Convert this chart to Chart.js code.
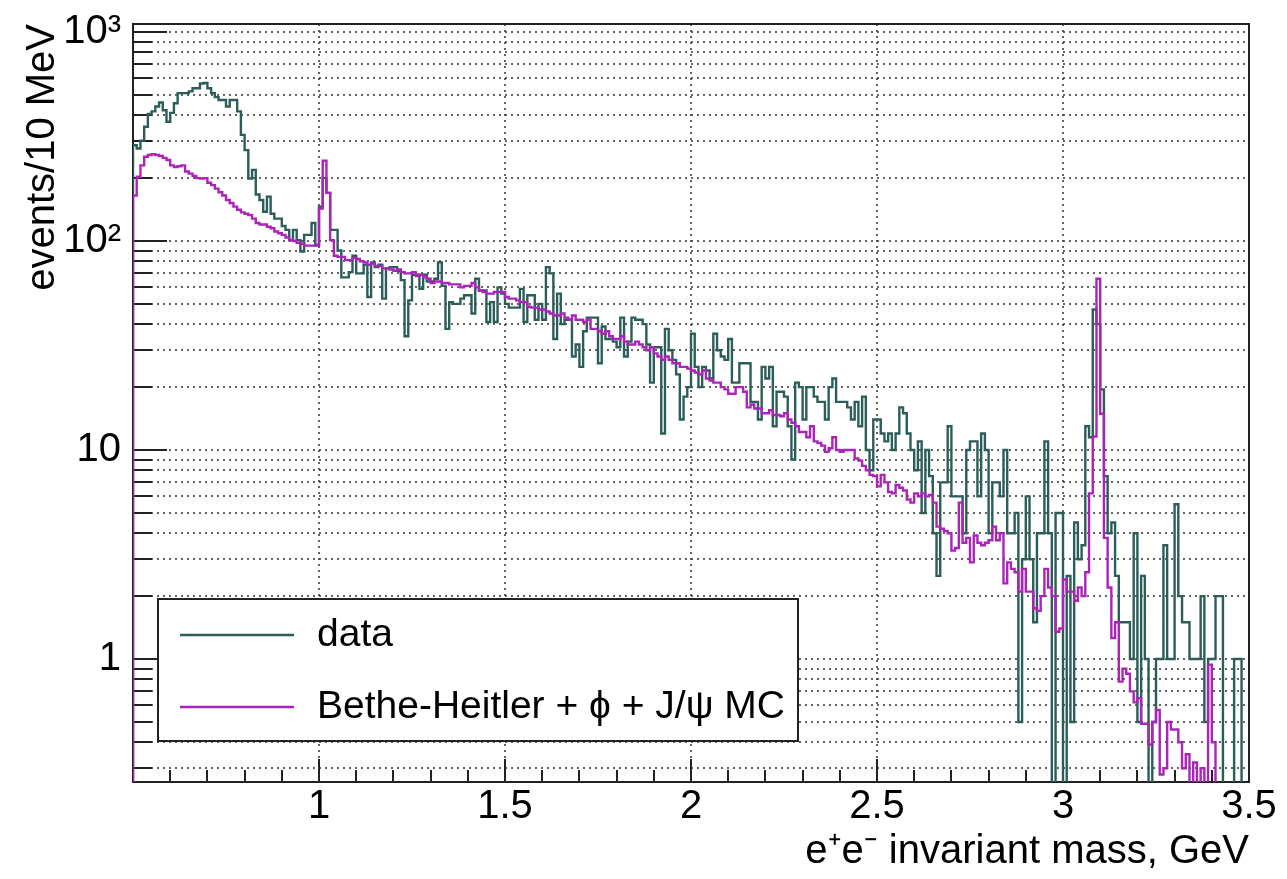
<!DOCTYPE html>
<html>
<head>
<meta charset="utf-8">
<script src="https://cdn.jsdelivr.net/npm/chart.js@4.4.0/dist/chart.umd.min.js"></script>
<style>
    html, body { margin: 0; padding: 0; background: #fff; }
    #wrap { width: 1287px; height: 879px; }
</style>
</head>
<body>
<div id="wrap"><canvas id="massChart" width="1287" height="879"></canvas></div>
<script>
// e+e- invariant mass histogram, 10 MeV bins from 0.5 to 3.5 GeV

const massMin = 0.5;
const massMax = 3.5;
const binWidth = 0.01;

// events per bin, data
const dataCounts = [
    287, 277, 302, 352, 405, 417, 440, 460, 422, 372,
    410, 456, 510, 510, 510, 520, 538, 538, 567, 570,
    538, 510, 488, 473, 473, 440, 473, 473, 417, 322,
    272, 199, 219, 167, 157, 138, 163, 135, 128, 128,
    118, 113, 101, 113, 101, 89, 107, 107, 122, 95,
    146, 200, 170, 113, 113, 90, 67, 67, 71, 85,
    70, 70, 77, 54, 79, 75, 77, 53, 74, 75,
    75, 72, 65, 35, 52, 69, 69, 59, 69, 64,
    64, 66, 79, 61, 38, 51, 50, 50, 53, 55,
    55, 45, 66, 58, 58, 41, 51, 41, 60, 56,
    50, 48, 48, 48, 59, 41, 55, 55, 42, 50,
    42, 75, 70, 34, 56, 40, 42, 42, 28, 32,
    25, 37, 43, 43, 43, 26, 39, 34, 34, 33,
    31, 43, 28, 33, 43, 42, 42, 40, 32, 21,
    31, 31, 12, 38, 30, 27, 23, 14, 18, 20,
    36, 25, 20, 25, 24, 22, 36, 30, 28, 27,
    34, 21, 21, 26, 26, 26, 17, 17, 14, 25,
    22, 25, 13, 19, 19, 18, 13, 9, 21, 20,
    14, 20, 20, 18, 17, 17, 14, 20, 22, 17,
    17, 17, 16, 14, 17, 13, 18, 10, 8, 14,
    14, 12, 11, 12, 10, 12, 16, 15, 12, 10,
    8, 11, 5, 10, 7.5, 4, 2.5, 7, 7, 13,
    6, 6, 6, 4, 10, 11, 11, 6, 12, 10,
    4, 7, 7, 6, 10, 4, 4, 5, 0.5, 3,
    6, 3, 1.5, 4, 4, 11, 4, 0, 5, 5,
    0, 2.5, 0.5, 4.5, 3, 3.5, 13, 11.5, 47, 40,
    19.5, 7.5, 4, 4.5, 2.5, 1.5, 1.5, 1.5, 1, 4,
    0.5, 2.5, 1, 0, 0.5, 1, 1, 3.5, 1, 1,
    5.5, 2, 1.5, 1.5, 1, 1, 1, 2, 0.5, 1,
    1, 2, 2, 0, 0, 0, 1, 1, 0, 0
];

// events per bin, Bethe-Heitler + phi + J/psi simulation
const mcCounts = [
    165, 203, 230, 253, 258, 260, 258, 255, 250, 244,
    230, 226, 228, 230, 215, 210, 205, 200, 199, 200,
    190, 185, 178, 171, 165, 157, 152, 146, 141, 137,
    135, 133, 128, 122, 120, 120, 117, 115, 111, 109,
    107, 104, 101, 100, 98, 97, 95, 95, 95, 96,
    143, 242, 170, 101, 85, 84, 84, 81, 81, 83,
    82, 80, 79, 77, 78, 76, 76, 74, 74, 73,
    72, 73, 71, 70, 70, 71, 68, 69, 67, 66,
    63, 64, 64, 63, 63, 62, 62, 62, 60, 61,
    61, 63, 60, 58, 57, 56, 56, 57, 57, 57,
    54, 53, 53, 52, 51, 51, 48.5, 48, 48, 47,
    47, 46, 45, 44, 44, 45, 43, 42, 44, 42,
    42, 41, 42, 38, 38, 37, 36, 37, 35, 34,
    34, 35, 33, 32, 32, 33, 32, 31, 30, 31,
    29, 28, 27, 28, 27, 26, 26, 25, 25, 24.5,
    24, 23.5, 23, 24, 22, 21.5, 21, 21, 20, 19.5,
    18.6, 18.6, 20, 20, 19, 16, 16.5, 15.8, 15.8, 15,
    15, 15.5, 14.7, 14.7, 14.5, 15, 14, 13.5, 13, 12.2,
    12.2, 11.5, 13, 11, 10.8, 10.5, 9.8, 10.2, 11.5, 10,
    9.8, 10, 10, 10, 9.1, 8.9, 8.4, 8, 7.6, 7.5,
    6.7, 7.6, 7, 6.3, 6.2, 6.8, 6.6, 6.4, 5.8, 5.6,
    6.2, 6, 6.2, 6, 6.1, 5.6, 4.3, 4.2, 4.1, 4,
    3.3, 3.4, 5.6, 3.6, 3.8, 2.9, 3.9, 3.6, 3.5, 3.6,
    3.7, 4.3, 3.7, 4, 2.3, 2.9, 2.7, 2.6, 2.1, 2.7,
    2.1, 2.1, 1.75, 1.7, 2, 2.7, 2.2, 2, 1.35, 1.4,
    2.4, 2.1, 2.1, 1.9, 2.2, 2, 2.6, 6.2, 11.6, 66,
    14.9, 3.8, 2.2, 1.26, 1.5, 0.78, 0.9, 0.85, 0.7, 0.62,
    0.65, 0.49, 0.49, 0.39, 0.5, 0.57, 0.28, 0.3, 0.5, 0.46,
    0.46, 0.4, 0.3, 0.35, 0.2, 0.32, 0.2, 0.3, 0.2, 0.94,
    0.4, 0, 0, 0, 0, 0, 0, 0, 0, 0
];

// axis ticks
const xTickValues = [0.5, 1, 1.5, 2, 2.5, 3, 3.5];
const yTickValues = [
    0.3, 0.4, 0.5, 0.6, 0.7, 0.8, 0.9,
    1, 2, 3, 4, 5, 6, 7, 8, 9,
    10, 20, 30, 40, 50, 60, 70, 80, 90,
    100, 200, 300, 400, 500, 600, 700, 800, 900,
    1000
];
const yTickLabels = { 1: '1', 10: '10', 100: '10\u00b2', 1000: '10\u00b3' };
const yMin = 0.258;
const yMax = 1092;

const dataColor = '#2b5d59';
const mcColor = '#ab24ba';
const gridColor = 'rgba(60,60,60,0.8)';
const fontFamily = "'Liberation Sans', Arial, Helvetica, sans-serif";

// Turn bin contents into step points (left edge of each bin, plus closing edge).
// Empty bins are pushed far below the axis so the line drops out of the frame.
function toSteps(values) {
    const low = 1e-3;
    const pts = [{ x: massMin, y: low }];
    values.forEach((v, i) => {
        pts.push({ x: massMin + i * binWidth, y: v > 0 ? v : low });
    });
    const last = values[values.length - 1];
    pts.push({ x: massMax, y: last > 0 ? last : low });
    return pts;
}

// Frame and inward tick marks, ROOT style
const rootFrame = {
    id: 'rootFrame',
    beforeDatasetsDraw(chart) {
        const { ctx, chartArea } = chart;
        const xs = chart.scales.x;
        const ys = chart.scales.y;
        ctx.save();
        ctx.strokeStyle = '#222';
        ctx.lineWidth = 2;

        // y ticks
        yTickValues.forEach(v => {
            const py = Math.round(ys.getPixelForValue(v));
            const major = yTickLabels[v] !== undefined;
            ctx.beginPath();
            ctx.moveTo(chartArea.left, py);
            ctx.lineTo(chartArea.left + (major ? 34 : 19), py);
            ctx.stroke();
        });

        // x ticks every 100 MeV
        for (let k = 0; k <= 30; k++) {
            const v = massMin + k * 0.1;
            const px = Math.round(xs.getPixelForValue(v));
            const major = k % 5 === 0;
            ctx.beginPath();
            ctx.moveTo(px, chartArea.bottom);
            ctx.lineTo(px, chartArea.bottom - (major ? 23 : 12));
            ctx.stroke();
        }

        ctx.strokeRect(chartArea.left, chartArea.top,
            chartArea.right - chartArea.left, chartArea.bottom - chartArea.top);
        ctx.restore();
    }
};

// Legend box inside the lower left of the frame
const rootLegend = {
    id: 'rootLegend',
    afterDraw(chart) {
        const { ctx } = chart;
        const box = { x: 158, y: 599, w: 640, h: 142 };
        ctx.save();
        ctx.fillStyle = '#fff';
        ctx.fillRect(box.x, box.y, box.w, box.h);
        ctx.strokeStyle = '#222';
        ctx.lineWidth = 2;
        ctx.strokeRect(box.x, box.y, box.w, box.h);

        ctx.font = '39px ' + fontFamily;
        ctx.textBaseline = 'middle';
        ctx.textAlign = 'left';
        const rows = [box.y + 36, box.y + 108];
        chart.data.datasets.forEach((ds, i) => {
            const ry = rows[i];
            ctx.strokeStyle = ds.borderColor;
            ctx.lineWidth = 2.4;
            ctx.beginPath();
            ctx.moveTo(box.x + 22, ry);
            ctx.lineTo(box.x + 136, ry);
            ctx.stroke();
            ctx.fillStyle = '#000';
            ctx.fillText(ds.label, box.x + 159, ry);
        });
        ctx.restore();
    }
};

const ctx = document.getElementById('massChart');

new Chart(ctx, {
    type: 'line',
    data: {
        datasets: [
            {
                label: 'data',
                data: toSteps(dataCounts),
                borderColor: dataColor,
                borderWidth: 2.4,
                stepped: 'before',
                pointRadius: 0,
                fill: false,
                order: 2
            },
            {
                label: 'Bethe-Heitler + \u03d5 + J/\u03c8 MC',
                data: toSteps(mcCounts),
                borderColor: mcColor,
                borderWidth: 2.4,
                stepped: 'before',
                pointRadius: 0,
                fill: false,
                order: 1
            }
        ]
    },
    options: {
        responsive: false,
        animation: false,
        devicePixelRatio: 1,
        layout: { padding: { top: 24, right: 38, left: 0, bottom: 0 } },
        plugins: {
            legend: { display: false },
            tooltip: { enabled: false }
        },
        scales: {
            x: {
                type: 'linear',
                min: massMin,
                max: massMax,
                afterBuildTicks: scale => {
                    scale.ticks = xTickValues.map(v => ({ value: v }));
                },
                afterFit: scale => {
                    scale.height = 97;
                    scale.paddingLeft = 0;
                    scale.paddingRight = 0;
                },
                ticks: {
                    autoSkip: false,
                    maxRotation: 0,
                    padding: 1,
                    color: '#000',
                    font: { family: fontFamily, size: 40 },
                    callback: v => (v === massMin ? '' : String(v))
                },
                grid: {
                    drawTicks: false,
                    color: gridColor,
                    lineWidth: 2
                },
                border: { display: false, dash: [2, 4] },
                title: {
                    display: true,
                    text: 'e\u207ae\u207b invariant mass, GeV',
                    align: 'end',
                    color: '#000',
                    font: { family: fontFamily, size: 40 },
                    padding: { top: 0, bottom: 3 }
                }
            },
            y: {
                type: 'logarithmic',
                min: yMin,
                max: yMax,
                afterBuildTicks: scale => {
                    scale.ticks = yTickValues.map(v => ({ value: v }));
                },
                afterFit: scale => {
                    scale.width = 133;
                    scale.paddingTop = 0;
                    scale.paddingBottom = 0;
                },
                ticks: {
                    autoSkip: false,
                    padding: 12,
                    color: '#000',
                    font: { family: fontFamily, size: 40 },
                    callback: v => yTickLabels[v] || ''
                },
                grid: {
                    drawTicks: false,
                    color: gridColor,
                    lineWidth: 2
                },
                border: { display: false, dash: [2, 4] },
                title: {
                    display: true,
                    text: 'events/10 MeV',
                    align: 'end',
                    color: '#000',
                    font: { family: fontFamily, size: 40 },
                    padding: { top: 19, bottom: 0 }
                }
            }
        }
    },
    plugins: [rootFrame, rootLegend]
});
</script>
</body>
</html>
